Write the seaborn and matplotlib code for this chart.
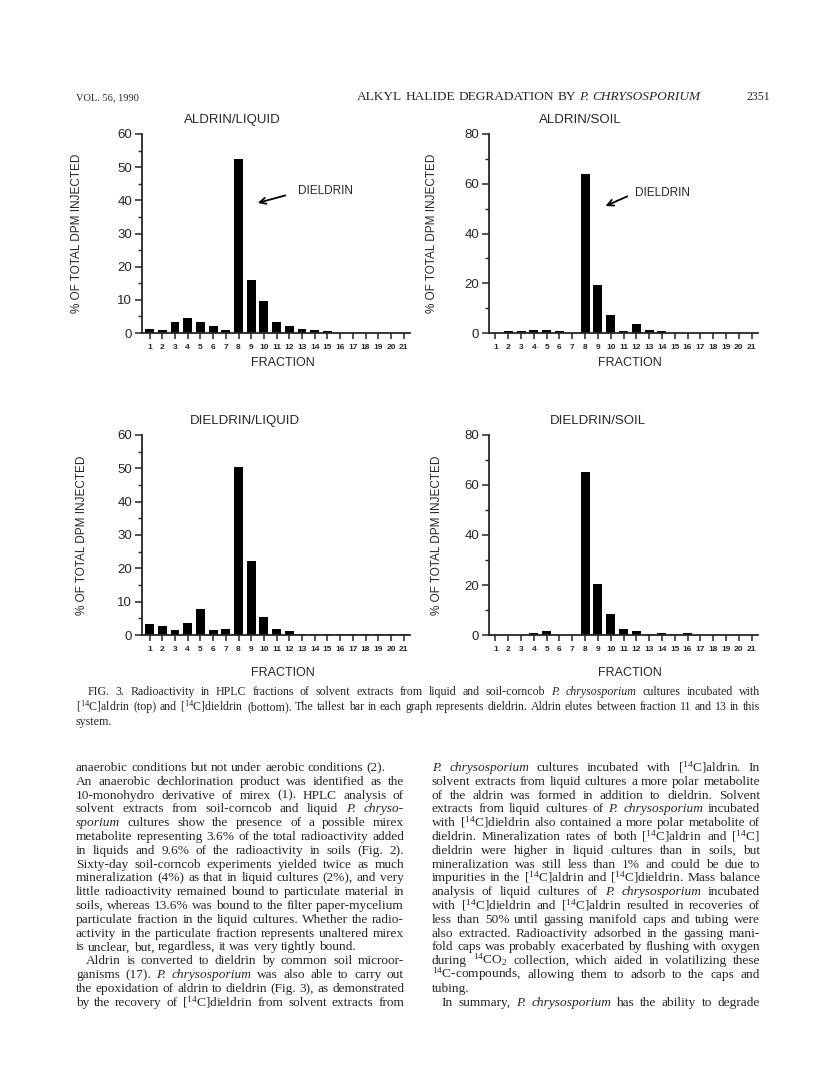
import matplotlib
matplotlib.use("Agg")
import matplotlib.pyplot as plt
import matplotlib.transforms as mtransforms
from matplotlib.ticker import MultipleLocator
import pandas as pd
import seaborn as sns

# HPLC fraction numbers and % of total DPM injected
fractions = list(range(1, 22))
aldrin_liquid = [1.3, 1.0, 3.3, 4.5, 3.3, 2.2, 0.9, 52.5, 16.1, 9.7, 3.3,
                 2.1, 1.3, 0.9, 0.6, 0.1, 0.1, 0.1, 0.1, 0.1, 0.1]
aldrin_soil = [0.2, 0.8, 0.8, 1.2, 1.2, 0.7, 0.2, 64.1, 19.4, 7.4, 0.7,
               3.8, 1.3, 0.8, 0.2, 0.1, 0.1, 0.1, 0.1, 0.1, 0.1]
dieldrin_liquid = [3.3, 2.6, 1.5, 3.7, 7.9, 1.5, 1.8, 50.5, 22.3, 5.3, 1.8,
                   1.1, 0.2, 0.2, 0.2, 0.2, 0.2, 0.2, 0.2, 0.2, 0.2]
dieldrin_soil = [0.1, 0.1, 0.1, 0.9, 1.6, 0.1, 0.1, 65.1, 20.5, 8.6, 2.5,
                 1.6, 0.3, 1.0, 0.3, 1.0, 0.1, 0.1, 0.1, 0.1, 0.1]

titles = ["ALDRIN/LIQUID", "ALDRIN/SOIL", "DIELDRIN/LIQUID", "DIELDRIN/SOIL"]
series = [aldrin_liquid, aldrin_soil, dieldrin_liquid, dieldrin_soil]
y_max = [60, 80, 60, 80]
y_step = [10, 20, 10, 20]

header_left = "VOL. 56, 1990"
header_mid = "ALKYL HALIDE DEGRADATION BY *P.* *CHRYSOSPORIUM*"
header_page = "2351"

caption = [
    "FIG. 3. Radioactivity in HPLC fractions of solvent extracts from liquid and soil-corncob *P.* *chrysosporium* cultures incubated with",
    "[$^{14}$C]aldrin (top) and [$^{14}$C]dieldrin (bottom). The tallest bar in each graph represents dieldrin. Aldrin elutes between fraction 11 and 13 in this",
    "system.",
]

left_col = [
    "anaerobic conditions but not under aerobic conditions (2).",
    "An anaerobic dechlorination product was identified as the",
    "10-monohydro derivative of mirex (1). HPLC analysis of",
    "solvent extracts from soil-corncob and liquid *P.* *chryso-*",
    "*sporium* cultures show the presence of a possible mirex",
    "metabolite representing 3.6% of the total radioactivity added",
    "in liquids and 9.6% of the radioactivity in soils (Fig. 2).",
    "Sixty-day soil-corncob experiments yielded twice as much",
    "mineralization (4%) as that in liquid cultures (2%), and very",
    "little radioactivity remained bound to particulate material in",
    "soils, whereas 13.6% was bound to the filter paper-mycelium",
    "particulate fraction in the liquid cultures. Whether the radio-",
    "activity in the particulate fraction represents unaltered mirex",
    "is unclear, but, regardless, it was very tightly bound.",
    "Aldrin is converted to dieldrin by common soil microor-",
    "ganisms (17). *P.* *chrysosporium* was also able to carry out",
    "the epoxidation of aldrin to dieldrin (Fig. 3), as demonstrated",
    "by the recovery of [$^{14}$C]dieldrin from solvent extracts from",
]
right_col = [
    "*P.* *chrysosporium* cultures incubated with [$^{14}$C]aldrin. In",
    "solvent extracts from liquid cultures a more polar metabolite",
    "of the aldrin was formed in addition to dieldrin. Solvent",
    "extracts from liquid cultures of *P.* *chrysosporium* incubated",
    "with [$^{14}$C]dieldrin also contained a more polar metabolite of",
    "dieldrin. Mineralization rates of both [$^{14}$C]aldrin and [$^{14}$C]",
    "dieldrin were higher in liquid cultures than in soils, but",
    "mineralization was still less than 1% and could be due to",
    "impurities in the [$^{14}$C]aldrin and [$^{14}$C]dieldrin. Mass balance",
    "analysis of liquid cultures of *P.* *chrysosporium* incubated",
    "with [$^{14}$C]dieldrin and [$^{14}$C]aldrin resulted in recoveries of",
    "less than 50% until gassing manifold caps and tubing were",
    "also extracted. Radioactivity adsorbed in the gassing mani-",
    "fold caps was probably exacerbated by flushing with oxygen",
    "during $^{14}$CO$_2$ collection, which aided in volatilizing these",
    "$^{14}$C-compounds, allowing them to adsorb to the caps and",
    "tubing.",
    "In summary, *P.* *chrysosporium* has the ability to degrade",
]

sns.set_style("ticks")
plt.rcParams["font.family"] = ["Liberation Sans", "DejaVu Sans"]
plt.rcParams["mathtext.fontset"] = "custom"
plt.rcParams["mathtext.rm"] = "Liberation Serif"
plt.rcParams["mathtext.it"] = "Liberation Serif:italic"
plt.rcParams["mathtext.bf"] = "Liberation Serif:bold"
SERIF = ["Liberation Serif", "DejaVu Serif"]

W, H = 816, 1080
fig = plt.figure(figsize=(W / 100, H / 100), dpi=100)
fig.patch.set_facecolor("white")

# axes rectangles in pixels: left, top(of y max), right, bottom(zero line)
rects = [(142, 134, 410, 333), (489, 134, 758, 333),
         (142, 435, 410, 635), (489, 435, 758, 635)]
xlims = [(0.4, 21.5), (0.5, 21.5), (0.4, 21.5), (0.5, 21.5)]
title_x = [7.5, 7.6, 8.5, 9.0]
ylabel_x = [-0.22, -0.19, -0.20, -0.17]
xlabel_y = [-0.12, -0.12, -0.16, -0.16]

axes = []
for i in range(4):
    l, t, r, b = rects[i]
    ax = fig.add_axes([l / W, 1 - b / H, (r - l) / W, (b - t) / H])
    df = pd.DataFrame({"fraction": fractions, "pct": series[i]})
    sns.barplot(data=df, x="fraction", y="pct", native_scale=True, color="black",
                width=0.7, errorbar=None, linewidth=0, saturation=1, ax=ax)
    ax.set_xlim(*xlims[i])
    ax.set_ylim(0, y_max[i])
    ax.set_xticks(fractions)
    ax.set_xticklabels([str(f) for f in fractions], fontsize=6, fontweight="bold")
    ax.yaxis.set_major_locator(MultipleLocator(y_step[i]))
    ax.yaxis.set_minor_locator(MultipleLocator(y_step[i] / 2))
    ax.tick_params(axis="y", which="major", labelsize=9.5, length=5, width=1.1, pad=2)
    ax.tick_params(axis="y", which="minor", length=3, width=1.0)
    ax.tick_params(axis="x", which="major", length=4, width=1.1, pad=4)
    for s in ["top", "right"]:
        ax.spines[s].set_visible(False)
    for s in ["left", "bottom"]:
        ax.spines[s].set_linewidth(1.3)
    ax.set_xlabel("FRACTION", fontsize=9)
    ax.xaxis.set_label_coords(0.525, xlabel_y[i])
    ax.set_ylabel("% OF TOTAL DPM INJECTED", fontsize=8.5)
    ax.yaxis.set_label_coords(ylabel_x[i], 0.5)
    trans = mtransforms.blended_transform_factory(ax.transData, ax.transAxes)
    ax.text(title_x[i], 1.07, titles[i], transform=trans, ha="center", va="center",
            fontsize=9.5)
    axes.append(ax)

# dieldrin arrows on the aldrin panels
axes[0].annotate("", xy=(9.3, 39), xytext=(11.9, 41.7),
                 arrowprops=dict(arrowstyle="->", lw=1.3, color="black", mutation_scale=11))
axes[0].text(12.7, 42.9, "DIELDRIN", fontsize=8.5, va="center", ha="left")
axes[1].annotate("", xy=(9.4, 50.6), xytext=(11.5, 55.4),
                 arrowprops=dict(arrowstyle="->", lw=1.3, color="black", mutation_scale=11))
axes[1].text(11.9, 56.2, "DIELDRIN", fontsize=8.5, va="center", ha="left")

renderer = fig.canvas.get_renderer()
pix = mtransforms.IdentityTransform()


def put_line(x0, x1, y, line, size, justify=True, indent=0):
    arts, widths = [], []
    for w in line.split():
        style = "normal"
        if w.startswith("*") and w.endswith("*") and len(w) > 1:
            w, style = w[1:-1], "italic"
        t = fig.text(0, 0, w, fontsize=size, family=SERIF, style=style,
                     va="baseline", ha="left", transform=pix)
        arts.append(t)
        widths.append(t.get_window_extent(renderer=renderer).width)
    space = 0.25 * size * 100 / 72
    gap = space
    if justify and len(arts) > 1:
        gap = (x1 - x0 - indent - sum(widths)) / (len(arts) - 1)
    x = x0 + indent
    for t, w in zip(arts, widths):
        t.set_position((x, H - y))
        x += w + gap


# running header
fig.text(76, H - 100, header_left, fontsize=7.5, family=SERIF, transform=pix,
         va="baseline")
put_line(357, 720, 100, header_mid, 9.6, justify=False)
fig.text(770, H - 100, header_page, fontsize=8.5, family=SERIF, transform=pix,
         va="baseline", ha="right")

# caption
cap_y = [695, 710, 725]
put_line(76, 760, cap_y[0], caption[0], 8.6, justify=True, indent=12)
put_line(76, 760, cap_y[1], caption[1], 8.6, justify=True)
put_line(76, 760, cap_y[2], caption[2], 8.6, justify=False)

# body text, two columns
for k, line in enumerate(left_col):
    y = 771 + k * 13.8
    put_line(76, 404, y, line, 9.6, justify=k not in (0, 13),
             indent=10 if k == 14 else 0)
for k, line in enumerate(right_col):
    y = 771 + k * 13.8
    put_line(432, 760, y, line, 9.6, justify=k != 16,
             indent=10 if k == 17 else 0)

fig.savefig("out.png", dpi=100, facecolor="white")
